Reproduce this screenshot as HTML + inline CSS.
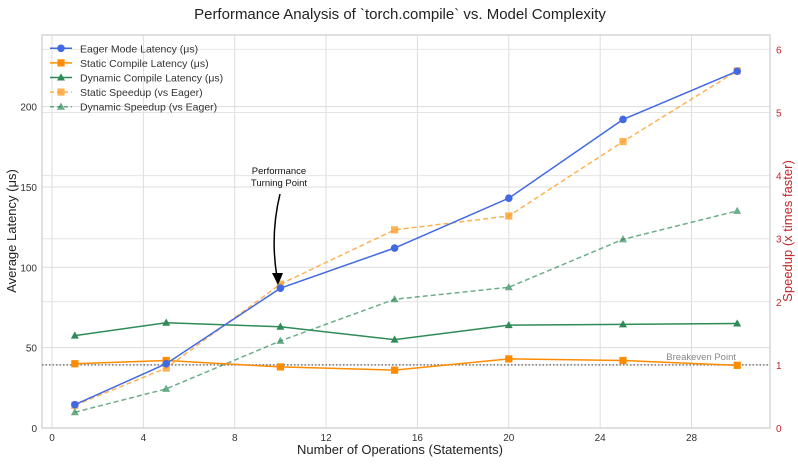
<!DOCTYPE html>
<html><head><meta charset="utf-8"><style>
body{margin:0;background:#fff;font-family:"Liberation Sans",sans-serif}
svg text{font-family:"Liberation Sans",sans-serif}
</style></head><body>
<svg id="c" width="798" height="462" xmlns="http://www.w3.org/2000/svg">
<text x="400" y="19" text-anchor="middle" font-size="15" fill="#222">Performance Analysis of `torch.compile` vs. Model Complexity</text>
<g id="grid"></g><g id="axes"></g><g id="series"></g>
<text x="400" y="454" text-anchor="middle" font-size="13" fill="#222">Number of Operations (Statements)</text>
<text transform="translate(16,231) rotate(-90)" text-anchor="middle" font-size="13" fill="#222">Average Latency (μs)</text>
<text transform="translate(792,231) rotate(-90)" text-anchor="middle" font-size="13" fill="#c0282d">Speedup (x times faster)</text>
</svg>
<script>
const xs=[1,5,10,15,20,25,30];
const eagerLat=[14.5,40,87,112,143,192,222];
const staticLat=[40,42,38,36,43,42,39];
const dynLat=[57.5,65.5,63,55,64,64.5,65];
const staticSpd=[0.36,0.95,2.28,3.14,3.36,4.54,5.66];
const dynSpd=[0.25,0.62,1.38,2.04,2.23,2.99,3.44];
const xTicks=[0,4,8,12,16,20,24,28];
const yTicks=[0,50,100,150,200];
const y2Ticks=[0,1,2,3,4,5,6];
const breakeven=1;
const L=42,R=770,T=35,B=428;
const X=v=>52+v*22.84, Y=v=>B-v*1.607, Y2=v=>B-v*63.1;
const NS="http://www.w3.org/2000/svg";
function mk(tag,at,par){const e=document.createElementNS(NS,tag);for(const k in at)e.setAttribute(k,at[k]);par.appendChild(e);return e;}
const grid=document.getElementById('grid'),axes=document.getElementById('axes'),ser=document.getElementById('series');
xTicks.forEach(t=>{const l=mk('line',{x1:X(t),x2:X(t),y1:T,y2:B,stroke:'#ddd'},grid);


const tx=mk('text',{x:X(t),y:B+13,'text-anchor':'middle','font-size':10,fill:'#333'},axes);tx.textContent=t;

});
yTicks.forEach(t=>{const l=mk('line',{x1:L,x2:R,y1:Y(t),y2:Y(t),stroke:'#ddd'},grid);


const tx=mk('text',{x:L-5,y:Y(t)+4,'text-anchor':'end','font-size':10,fill:'#333'},axes);tx.textContent=t;

});
y2Ticks.forEach(t=>{const l=mk('line',{x1:L,x2:R,y1:Y2(t),y2:Y2(t),stroke:'#e4e4e4'},grid);


const tx=mk('text',{x:R+6,y:Y2(t)+4,'font-size':10,fill:'#c0282d'},axes);tx.textContent=t;

});
const fr=mk('rect',{x:L,y:T,width:R-L,height:B-T,fill:'none',stroke:'#ccc','stroke-width':1.2},axes);


const be=mk('line',{x1:L,x2:R,y1:Y2(breakeven),y2:Y2(breakeven),stroke:'#777','stroke-width':1.5,'stroke-dasharray':'1.5 2'},ser);


const bt=mk('text',{x:736,y:Y2(breakeven)-5,'text-anchor':'end','font-size':9.5,fill:'#888'},ser);bt.textContent='Breakeven Point';


function marker(g,shape,x,y,col,op){
 if(shape==='o')return mk('circle',{cx:x,cy:y,r:3.8,fill:col,opacity:op},g);
 if(shape==='s')return mk('rect',{x:x-3.6,y:y-3.6,width:7.2,height:7.2,fill:col,opacity:op},g);
 return mk('polygon',{points:`${x},${y-4.2} ${x+4},${y+3} ${x-4},${y+3}`,fill:col,opacity:op},g);}
function series(name,vals,yf,col,shape,dash,op){
 const g=mk('g',{},ser);
 
 
 const pts=vals.map((v,i)=>X(xs[i])+','+yf(v)).join(' ');
 const pl=mk('polyline',{points:pts,fill:'none',stroke:col,'stroke-width':1.5,'stroke-dasharray':dash||'none',opacity:op},g);
 
 
 vals.forEach((v,i)=>{const m=marker(g,shape,X(xs[i]),yf(v),col,op);
 
 });}
series('dynamic-speedup',dynSpd,Y2,'#2e8b57','^','5 3',0.7);
series('static-speedup',staticSpd,Y2,'#ff9f2a','s','5 3',0.8);
series('dynamic-latency',dynLat,Y,'#2e8b57','^');
series('static-latency',staticLat,Y,'#ff8c00','s');
series('eager-latency',eagerLat,Y,'#4169e1','o');
// legend
const lg=mk('g',{},ser);


const ent=[['Eager Mode Latency (μs)','#4169e1','o',null,1],['Static Compile Latency (μs)','#ff8c00','s',null,1],['Dynamic Compile Latency (μs)','#2e8b57','^',null,1],['Static Speedup (vs Eager)','#ff9f2a','s','4 3',0.8],['Dynamic Speedup (vs Eager)','#2e8b57','^','4 3',0.7]];
ent.forEach((e,i)=>{const y=48.3+i*14.6;
 const ge=mk('g',{},lg);
 
 
 mk('line',{x1:50,x2:72,y1:y,y2:y,stroke:e[1],'stroke-width':1.5,'stroke-dasharray':e[3]||'none',opacity:e[4]},ge);
 marker(ge,e[2],61,y,e[1],e[4]);
 const t=mk('text',{x:80,y:y+4,'font-size':10.5,fill:'#333'},ge);t.textContent=e[0];});
// annotation
const an=mk('g',{},ser);


const a1=mk('text',{x:279,y:174,'text-anchor':'middle','font-size':9.5,fill:'#111'},an);a1.textContent='Performance';
const a2=mk('text',{x:279,y:186,'text-anchor':'middle','font-size':9.5,fill:'#111'},an);a2.textContent='Turning Point';
mk('path',{d:'M280,194 Q270,235 277,277',fill:'none',stroke:'#000','stroke-width':1.5},an);
mk('polygon',{points:'272,273 283,273 278,285',fill:'#000'},an);
</script>
</body></html>
